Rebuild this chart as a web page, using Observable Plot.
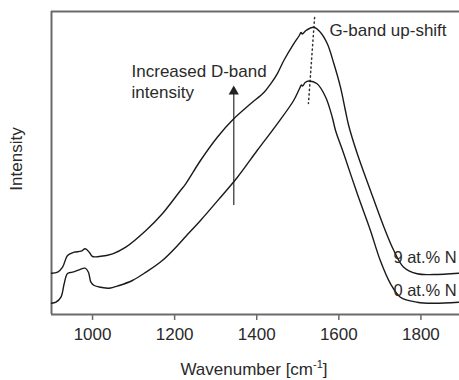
<!DOCTYPE html>
<html>
<head>
<meta charset="utf-8">
<script src="https://cdn.jsdelivr.net/npm/d3@7"></script>
<script src="https://cdn.jsdelivr.net/npm/@observablehq/plot@0.6"></script>
<style>
  html, body { margin: 0; padding: 0; background: #fff; }
  #chart { width: 459px; height: 380px; overflow: hidden; }
  svg { font-family: "Liberation Sans", Arial, sans-serif; }
</style>
</head>
<body>
<div id="chart"></div>
<script>
// Wavenumber (cm^-1) and intensity (arbitrary units)
const wn0 = [900, 911, 923, 931, 939, 951, 967, 982, 990, 996, 1004, 1020, 1040, 1065, 1097, 1130, 1170, 1211, 1227, 1263, 1312, 1353, 1401, 1450, 1490, 1505, 1509, 1512, 1518, 1527, 1547, 1568, 1584, 1592, 1612, 1645, 1677, 1701, 1726, 1750, 1791, 1831, 1892];
const int0 = [11.3, 12.3, 17.3, 31, 41, 42.3, 44.7, 46.3, 42.3, 32.3, 29, 27.3, 26.3, 29, 34, 42.3, 54, 70.7, 78, 94, 117.3, 137.3, 164, 190.7, 214, 226.5, 229.5, 228.5, 232, 233.5, 230.7, 217.3, 197.3, 184, 160.7, 120.7, 84, 54, 30.7, 17.3, 12.3, 11.3, 12.3];

const wn9 = [900, 915, 927, 939, 955, 972, 982, 992, 1000, 1016, 1049, 1081, 1130, 1170, 1211, 1227, 1263, 1304, 1344, 1385, 1418, 1434, 1450, 1466, 1490, 1503, 1508, 1511, 1520, 1539, 1555, 1572, 1588, 1604, 1616, 1624, 1645, 1677, 1710, 1734, 1758, 1791, 1831, 1892];
const int9 = [41.3, 42.3, 47.3, 59, 62.3, 63.3, 65.7, 62.3, 58, 58, 60.7, 67.3, 84, 100.7, 122.3, 130.7, 154, 177.3, 195.7, 210.7, 222.3, 230.7, 240.7, 254, 270.7, 278.5, 282, 280.5, 284, 287.3, 282.3, 270.7, 250.7, 227.3, 204, 189, 160.7, 124, 87.3, 64, 47.3, 40.7, 40, 41.3];

const xTicks = [1000, 1200, 1400, 1600, 1800];
const seriesLabels = ["9 at.% N", "0 at.% N"];
const labelX = [1733, 1733];
const labelY = [52, 19];

// G-band shift guide (dotted) and D-band arrow
const gShiftX = [1541, 1526];
const gShiftY = [297, 211];
const arrowX = 1344;
const arrowY = [109, 220];
const arrowTipY = 223;

const annText = ["Increased D-band", "intensity", "G-band up-shift"];
const annX = [1095, 1095, 1577];
const annY = [238, 217, 279];

const s0 = wn0.map((x, i) => ({x, y: int0[i]}));
const s9 = wn9.map((x, i) => ({x, y: int9[i]}));
const labels = seriesLabels.map((t, i) => ({t, x: labelX[i], y: labelY[i]}));
const ann = annText.map((t, i) => ({t, x: annX[i], y: annY[i]}));
const guide = gShiftX.map((x, i) => ({x, y: gShiftY[i]}));

const axisColor = "#6a6a6a";
const textColor = "#2a2a2a";

const plot = Plot.plot({
  width: 459,
  height: 380,
  marginLeft: 51,
  marginRight: 0,
  marginTop: 11,
  marginBottom: 66,
  style: {fontFamily: "Liberation Sans, Arial, sans-serif", background: "#fff"},
  x: {domain: [900, 1894]},
  y: {domain: [0, 303]},
  marks: [
    Plot.ruleY([303], {stroke: axisColor, strokeWidth: 2}),
    Plot.ruleX([900], {stroke: axisColor, strokeWidth: 2}),
    Plot.ruleY([0], {stroke: axisColor, strokeWidth: 2}),
    Plot.axisX({ticks: xTicks, tickSize: 6, tickPadding: 7, tickFormat: d => String(d), fontSize: 17, color: textColor, stroke: axisColor, strokeWidth: 1.5, label: null}),
    Plot.axisY({ticks: [], label: null}),
    Plot.line(guide, {x: "x", y: "y", stroke: "#333", strokeWidth: 1.5, strokeDasharray: "1.3,3.2"}),
    Plot.ruleX([arrowX], {y1: arrowY[0], y2: arrowY[1], stroke: "#555", strokeWidth: 1.5}),
    Plot.dot([arrowX], {x: d => d, y: () => arrowTipY, symbol: "triangle", r: 3.8, fill: "#222", stroke: "none"}),
    Plot.line(s9, {x: "x", y: "y", stroke: "#1a1a1a", strokeWidth: 1.4, curve: "catmull-rom"}),
    Plot.line(s0, {x: "x", y: "y", stroke: "#1a1a1a", strokeWidth: 1.4, curve: "catmull-rom"}),
    Plot.text(labels, {x: "x", y: "y", text: "t", textAnchor: "start", lineAnchor: "bottom", fontSize: 16.5, fill: textColor}),
    Plot.text(ann, {x: "x", y: "y", text: "t", textAnchor: "start", lineAnchor: "bottom", fontSize: 17, fill: textColor})
  ]
});

document.getElementById("chart").appendChild(plot);

// Axis titles (real text), x title with superscript
const svg = d3.select(plot);
const xl = svg.append("text")
  .attr("x", 254).attr("y", 375)
  .attr("text-anchor", "middle")
  .attr("font-size", 17)
  .attr("fill", textColor);
xl.append("tspan").text("Wavenumber [cm");
xl.append("tspan").attr("font-size", 11).attr("dy", -7).text("-1");
xl.append("tspan").attr("dy", 7).text("]");

svg.append("text")
  .attr("transform", "translate(22,159) rotate(-90)")
  .attr("text-anchor", "middle")
  .attr("font-size", 17)
  .attr("fill", textColor)
  .text("Intensity");
</script>
</body>
</html>
